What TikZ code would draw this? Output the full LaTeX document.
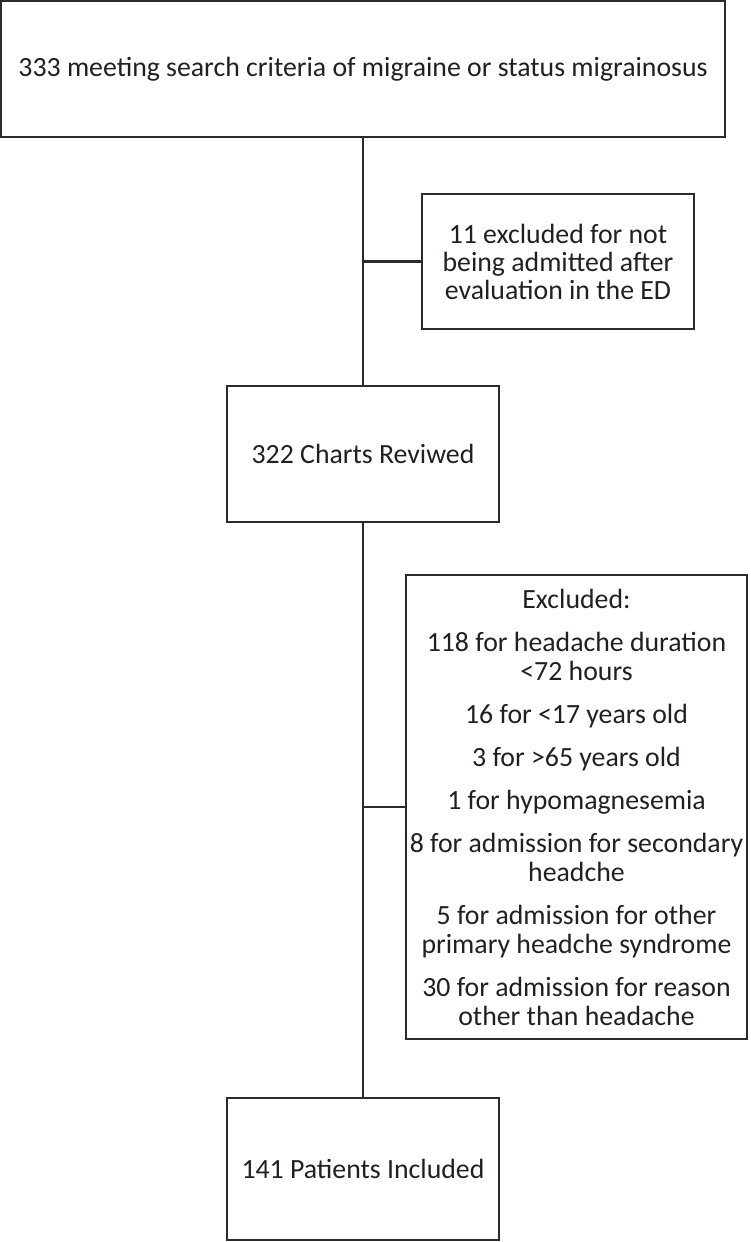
\documentclass[tikz,border=0pt]{standalone}
\usepackage{fontspec}
\setmainfont{Carlito}
\definecolor{ink}{HTML}{231F20}
\definecolor{edge}{HTML}{2B2B2B}
\begin{document}
\begin{tikzpicture}[x=1pt,y=1pt,
  box/.style={draw=edge, line width=2.6pt, rectangle, inner sep=0pt, align=center,
    text=ink, font=\fontsize{27.8}{29}\selectfont},
  conn/.style={draw=edge, line width=2.6pt}]
\useasboundingbox (0,0) rectangle (751,-1242);
\node[box, minimum width=724pt, minimum height=136pt] (top) at (363,-69) {333 meeting search criteria of migraine or status migrainosus};
\node[box, minimum width=272pt, minimum height=135pt, font=\fontsize{27.8}{28}\selectfont] (ex1) at (558,-261.5) {11 excluded for not\\being admitted after\\evaluation in the ED};
\node[box, minimum width=272pt, minimum height=136pt] (charts) at (363,-454) {322 Charts Reviwed};
\node[box, minimum width=341pt, minimum height=464pt] (ex2) at (576.5,-807) {Excluded:\\[14pt]118 for headache duration\\<72 hours\\[14pt]16 for <17 years old\\[14pt]3 for >65 years old\\[14pt]1 for hypomagnesemia\\[14pt]8 for admission for secondary\\headche\\[14pt]5 for admission for other\\primary headche syndrome\\[14pt]30 for admission for reason\\other than headache};
\node[box, minimum width=272pt, minimum height=142pt] (incl) at (363,-1169) {141 Patients Included};
\coordinate (j1) at (top.south |- ex1.west);
\coordinate (j2) at (top.south |- ex2.west);
\draw[conn] (top.south) -- (charts.north);
\draw[conn] (j1) -- (ex1.west);
\draw[conn] (charts.south) -- (incl.north);
\draw[conn] (j2) -- (ex2.west);
\end{tikzpicture}
\end{document}
